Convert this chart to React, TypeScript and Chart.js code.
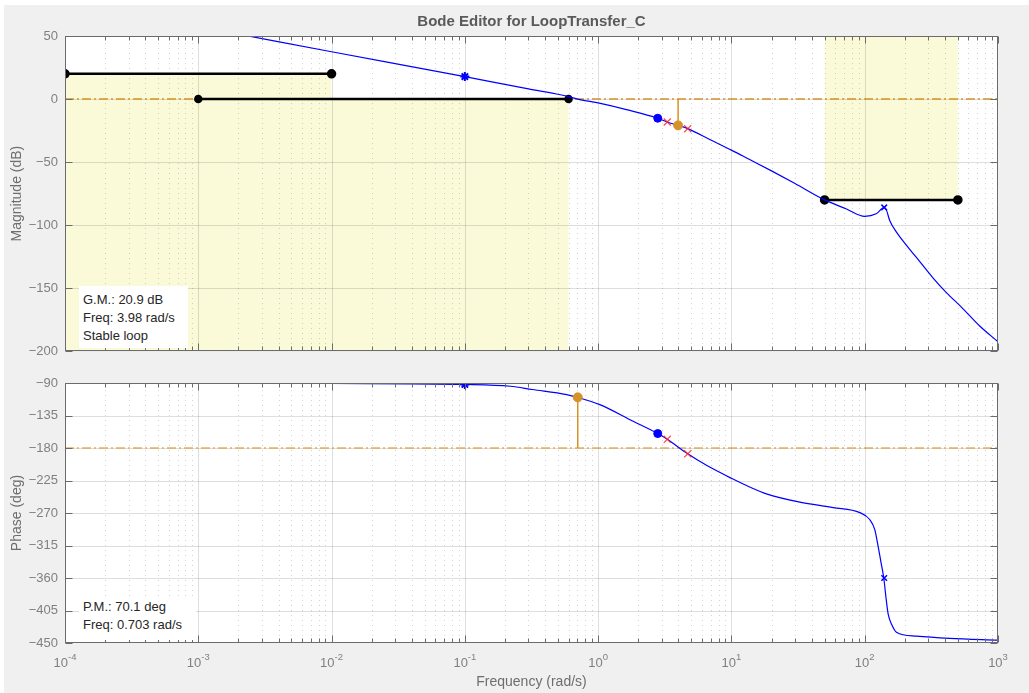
import React, { useEffect, useRef } from 'react';
import { Chart, registerables } from 'chart.js';

// white plot background, registered first so it runs before the filler plugin
const plotBg = {
  id: 'plotBg',
  beforeDraw(chart: any) {
    const { ctx, chartArea: a } = chart;
    ctx.save();
    ctx.fillStyle = '#ffffff';
    ctx.fillRect(a.left, a.top, a.right - a.left, a.bottom - a.top);
    ctx.restore();
  },
};
Chart.register(plotBg);
Chart.register(...registerables);

const FONT = '"Liberation Sans", Arial, Helvetica, sans-serif';

// ---------------- data ----------------
const chartTitle = 'Bode Editor for LoopTransfer_C';
const xTickValues = [1e-4, 1e-3, 1e-2, 1e-1, 1, 10, 100, 1000];
const xTickBase = '10';
const xTickExps = ['-4', '-3', '-2', '-1', '0', '1', '2', '3'];
const xMinorSteps = [2, 3, 4, 5, 6, 7, 8, 9];
const magTicks = [-200, -150, -100, -50, 0, 50];
const phaseTicks = [-450, -405, -360, -315, -270, -225, -180, -135, -90];

// open-loop magnitude (dB)
const magFreq = [1e-4, 1e-3, 2e-3, 1e-2, 0.1, 0.3, 0.52, 0.703, 1, 1.63, 2.8, 3.3, 3.98, 4.7, 7, 10, 13.7, 20, 30, 50, 73, 100, 122, 140, 146, 154, 173, 206, 259, 326, 410, 531, 729, 1000];
const magDb = [77.5, 57.5, 51.5, 37.5, 17.8, 8, 3.4, 0, -3.1, -8.4, -15.2, -18.2, -20.9, -23.5, -32.5, -40.5, -48, -57, -67, -80, -87.2, -93, -91, -86, -88.5, -96.4, -105.5, -116, -129, -142, -153.5, -165, -180, -192.5];

// open-loop phase (deg)
const phaseFreq = [1e-4, 1e-3, 1e-2, 0.1, 0.22, 0.32, 0.58, 0.703, 1.03, 1.83, 2.8, 3.3, 4.7, 6.5, 10, 13.7, 18.3, 32.6, 58, 92, 109, 119, 126, 133, 139, 145, 150, 160, 173, 244, 434, 1000];
const phaseDeg = [-90, -90.1, -90.6, -92, -94.5, -99, -106, -109.9, -120, -143, -160, -168, -188, -204, -222, -234, -243.5, -255, -262.5, -269.5, -279, -293, -316, -340, -360, -390, -410, -425, -435, -440.5, -443.5, -446];

// design constraints (magnitude)
const bound1Freq = [1e-4, 1e-2];
const bound1Db = [20, 20];
const bound2Freq = [1e-3, 0.6];
const bound2Db = [0, 0];
const bound3Freq = [50, 500];
const bound3Db = [-80, -80];

// reference lines
const refFreq = [1e-4, 1e3];
const magRefDb = [0, 0];
const phaseRefDeg = [-180, -180];

// markers
const integratorFreq = [0.1];
const integratorMagDb = [17.8];
const integratorPhase = [-92];
const zeroFreq = [2.8];
const zeroMagDb = [-15.2];
const zeroPhase = [-160];
const plantPoleFreq = [3.3, 4.7];
const plantPoleMagDb = [-18.2, -23.5];
const plantPolePhase = [-168, -188];
const compPoleFreq = [140];
const compPoleMagDb = [-86];
const compPolePhase = [-360];

// margins
const gmFreq = [3.98, 3.98];
const gmStemDb = [0, -20.9];
const pmFreq = [0.703, 0.703];
const pmStemDeg = [-180, -109.9];
const gmLines = ['G.M.: 20.9 dB', 'Freq: 3.98 rad/s', 'Stable loop'];
const pmLines = ['P.M.: 70.1 deg', 'Freq: 0.703 rad/s'];

// ---------------- helpers ----------------
const pts = (xs: number[], ys: number[]) => xs.map((x, i) => ({ x, y: ys[i] }));
const BLUE = '#0000ff';
const ORANGE = '#d6922a';
const YELLOW = 'rgb(250,250,216)';
const BOX = '#6b6b6b';

function framePlugin(opts: { title?: string; xLabels: boolean }) {
  return {
    id: 'frame',
    beforeDatasetsDraw(chart: any) {
      const { ctx, chartArea: a, scales } = chart;
      const xs = scales.x;
      const ys = scales.y;
      ctx.save();
      ctx.beginPath();
      ctx.rect(a.left, a.top, a.right - a.left, a.bottom - a.top);
      ctx.clip();
      ctx.lineWidth = 1;
      // minor x grid (dotted)
      ctx.strokeStyle = 'rgba(0,0,0,0.17)';
      ctx.setLineDash([1, 4]);
      for (const d of xTickValues.slice(0, -1)) {
        for (const m of xMinorSteps) {
          const px = Math.round(xs.getPixelForValue(d * m)) + 0.5;
          ctx.beginPath();
          ctx.moveTo(px, a.top + 2);
          ctx.lineTo(px, a.bottom);
          ctx.stroke();
        }
      }
      ctx.setLineDash([]);
      ctx.strokeStyle = 'rgba(0,0,0,0.13)';
      for (const v of xTickValues) {
        const px = Math.round(xs.getPixelForValue(v)) + 0.5;
        ctx.beginPath();
        ctx.moveTo(px, a.top);
        ctx.lineTo(px, a.bottom);
        ctx.stroke();
      }
      for (const t of ys.ticks) {
        const py = Math.round(ys.getPixelForValue(t.value)) + 0.5;
        ctx.beginPath();
        ctx.moveTo(a.left, py);
        ctx.lineTo(a.right, py);
        ctx.stroke();
      }
      ctx.restore();
    },
    afterDatasetsDraw(chart: any) {
      const { ctx, chartArea: a, scales } = chart;
      const xs = scales.x;
      const ys = scales.y;
      ctx.save();
      ctx.strokeStyle = BOX;
      ctx.lineWidth = 1;
      const L = Math.round(a.left) + 0.5;
      const R = Math.round(a.right) - 0.5;
      const T = Math.round(a.top) + 0.5;
      const B = Math.round(a.bottom) - 0.5;
      ctx.beginPath();
      for (const d of xTickValues) {
        const px = Math.round(xs.getPixelForValue(d)) + 0.5;
        ctx.moveTo(px, T); ctx.lineTo(px, T + 7);
        ctx.moveTo(px, B); ctx.lineTo(px, B - 7);
        if (d < 1000) {
          for (const m of xMinorSteps) {
            const pm = Math.round(xs.getPixelForValue(d * m)) + 0.5;
            ctx.moveTo(pm, T); ctx.lineTo(pm, T + 4);
            ctx.moveTo(pm, B); ctx.lineTo(pm, B - 4);
          }
        }
      }
      for (const t of ys.ticks) {
        const py = Math.round(ys.getPixelForValue(t.value)) + 0.5;
        ctx.moveTo(L, py); ctx.lineTo(L + 7, py);
        ctx.moveTo(R, py); ctx.lineTo(R - 7, py);
      }
      ctx.stroke();
      ctx.strokeRect(L, T, R - L, B - T);
      if (opts.xLabels) {
        ctx.fillStyle = '#808080';
        ctx.textBaseline = 'alphabetic';
        ctx.textAlign = 'left';
        xTickValues.forEach((v, i) => {
          const px = xs.getPixelForValue(v);
          ctx.font = `13px ${FONT}`;
          const wb = ctx.measureText(xTickBase).width;
          ctx.font = `9.5px ${FONT}`;
          const we = ctx.measureText(xTickExps[i]).width;
          const x0 = px - (wb + we) / 2;
          ctx.font = `13px ${FONT}`;
          ctx.fillText(xTickBase, x0, a.bottom + 24);
          ctx.font = `9.5px ${FONT}`;
          ctx.fillText(xTickExps[i], x0 + wb, a.bottom + 17);
        });
      }
      if (opts.title) {
        ctx.fillStyle = '#5a5a5a';
        ctx.font = `bold 15px ${FONT}`;
        ctx.textAlign = 'center';
        ctx.textBaseline = 'middle';
        ctx.fillText(opts.title, (a.left + a.right) / 2, 21.5);
      }
      ctx.restore();
    },
  };
}

function yScale(min: number, max: number, ticks: number[], title: string) {
  return {
    type: 'linear',
    position: 'left',
    min,
    max,
    afterBuildTicks: (s: any) => { s.ticks = ticks.map((v) => ({ value: v })); },
    afterFit: (s: any) => { s.width = 65; },
    grid: { display: false, drawTicks: false },
    border: { display: false },
    ticks: {
      color: '#808080',
      padding: 7,
      font: { family: FONT, size: 13 },
      callback: (v: number) => String(v).replace('-', '\u2212'),
    },
    title: {
      display: true,
      text: title,
      color: '#6e6e6e',
      font: { family: FONT, size: 14 },
      padding: { top: 9, bottom: 0 },
    },
  };
}

function baseOptions(yOpts: any, xOpts: any, padding: any) {
  return {
    responsive: false,
    maintainAspectRatio: false,
    animation: false,
    events: [],
    layout: { padding },
    plugins: {
      legend: { display: false },
      tooltip: { enabled: false },
      title: { display: false },
      filler: { drawTime: 'beforeDraw' },
    },
    elements: { line: { tension: 0 }, point: { radius: 0 } },
    scales: { x: xOpts, y: yOpts },
  };
}

function buildMag(canvas: HTMLCanvasElement) {
  const datasets: any[] = [
    { data: pts(gmFreq.slice(1), gmStemDb.slice(1)), showLine: false, pointRadius: 4.5, pointBackgroundColor: ORANGE, pointBorderColor: ORANGE, order: 0 },
    { data: pts(gmFreq, gmStemDb), borderColor: ORANGE, borderWidth: 1.5, pointRadius: 0, order: 1 },
    { data: pts(plantPoleFreq, plantPoleMagDb), showLine: false, pointStyle: 'crossRot', pointRadius: 5, pointBorderColor: 'rgba(255,40,40,0.85)', pointBorderWidth: 1.2, order: 0 },
    { data: pts(zeroFreq, zeroMagDb), showLine: false, pointRadius: 4, pointBackgroundColor: BLUE, pointBorderColor: BLUE, order: 0 },
    { data: pts(integratorFreq, integratorMagDb), showLine: false, pointStyle: 'star', pointRadius: 4.5, pointBorderColor: BLUE, pointBorderWidth: 2, order: 0 },
    { data: pts(compPoleFreq, compPoleMagDb), showLine: false, pointStyle: 'crossRot', pointRadius: 4, pointBorderColor: BLUE, pointBorderWidth: 1.5, order: 0 },
    { data: pts(magFreq, magDb), borderColor: BLUE, borderWidth: 1.2, pointRadius: 0, cubicInterpolationMode: 'monotone', order: 2 },
    { data: pts(bound1Freq, bound1Db), borderColor: '#000', borderWidth: 2.5, pointRadius: 3.5, pointBackgroundColor: '#000', pointBorderColor: '#000', fill: 'start', backgroundColor: YELLOW, order: 3 },
    { data: pts(bound2Freq, bound2Db), borderColor: '#000', borderWidth: 2.5, pointRadius: 3, pointBackgroundColor: '#000', pointBorderColor: '#000', fill: 'start', backgroundColor: YELLOW, order: 3 },
    { data: pts(bound3Freq, bound3Db), borderColor: '#000', borderWidth: 2.5, pointRadius: 3.5, pointBackgroundColor: '#000', pointBorderColor: '#000', fill: 'end', backgroundColor: YELLOW, order: 3 },
    { data: pts(refFreq, magRefDb), borderColor: ORANGE, borderWidth: 1.5, borderDash: [9, 3, 2, 3], pointRadius: 0, order: 4 },
  ];
  const x = { type: 'logarithmic', min: 1e-4, max: 1e3, display: false };
  return new Chart(canvas, {
    type: 'line',
    data: { datasets },
    options: baseOptions(yScale(-200, 50, magTicks, 'Magnitude (dB)'), x, { top: 36, right: 31, bottom: 10, left: 0 }) as any,
    plugins: [framePlugin({ title: chartTitle, xLabels: false })],
  } as any);
}

function buildPhase(canvas: HTMLCanvasElement) {
  const datasets: any[] = [
    { data: pts(pmFreq.slice(1), pmStemDeg.slice(1)), showLine: false, pointRadius: 4.5, pointBackgroundColor: ORANGE, pointBorderColor: ORANGE, order: 0 },
    { data: pts(pmFreq, pmStemDeg), borderColor: ORANGE, borderWidth: 1.5, pointRadius: 0, order: 1 },
    { data: pts(plantPoleFreq, plantPolePhase), showLine: false, pointStyle: 'crossRot', pointRadius: 5, pointBorderColor: 'rgba(255,40,40,0.85)', pointBorderWidth: 1.2, order: 0 },
    { data: pts(zeroFreq, zeroPhase), showLine: false, pointRadius: 4, pointBackgroundColor: BLUE, pointBorderColor: BLUE, order: 0 },
    { data: pts(integratorFreq, integratorPhase), showLine: false, pointStyle: 'star', pointRadius: 4.5, pointBorderColor: BLUE, pointBorderWidth: 2, order: 0 },
    { data: pts(compPoleFreq, compPolePhase), showLine: false, pointStyle: 'crossRot', pointRadius: 4, pointBorderColor: BLUE, pointBorderWidth: 1.5, order: 0 },
    { data: pts(phaseFreq, phaseDeg), borderColor: BLUE, borderWidth: 1.2, pointRadius: 0, cubicInterpolationMode: 'monotone', order: 2 },
    { data: pts(refFreq, phaseRefDeg), borderColor: 'rgba(214,146,42,0.72)', borderWidth: 1.5, borderDash: [9, 3, 2, 3], pointRadius: 0, order: 4 },
  ];
  const x = {
    type: 'logarithmic',
    min: 1e-4,
    max: 1e3,
    display: true,
    afterFit: (s: any) => { s.height = 50; },
    grid: { display: false, drawTicks: false },
    border: { display: false },
    ticks: { display: false },
    title: {
      display: true,
      text: 'Frequency (rad/s)',
      color: '#6e6e6e',
      font: { family: FONT, size: 14 },
      padding: { top: 0, bottom: 2 },
    },
  };
  return new Chart(canvas, {
    type: 'line',
    data: { datasets },
    options: baseOptions(yScale(-450, -90, phaseTicks, 'Phase (deg)'), x, { top: 17, right: 31, bottom: 0, left: 0 }) as any,
    plugins: [framePlugin({ xLabels: true })],
  } as any);
}

const boxText: React.CSSProperties = {
  position: 'absolute',
  background: '#ffffff',
  color: '#262626',
  fontFamily: FONT,
  fontSize: 13,
  whiteSpace: 'nowrap',
  boxSizing: 'border-box',
  paddingLeft: 4,
};

export default function App() {
  const magRef = useRef<HTMLCanvasElement>(null);
  const phaseRef = useRef<HTMLCanvasElement>(null);
  useEffect(() => {
    const c1 = buildMag(magRef.current!);
    const c2 = buildPhase(phaseRef.current!);
    return () => { c1.destroy(); c2.destroy(); };
  }, []);
  return (
    <div style={{ position: 'absolute', left: 0, top: 0, width: 1029, height: 693, background: '#ffffff', overflow: 'hidden' }}>
      <div style={{ position: 'absolute', left: 4, top: 5, right: 0, bottom: 0, background: '#f0f0f0' }} />
      <canvas ref={magRef} width={1029} height={366} style={{ position: 'absolute', left: 0, top: 0, display: 'block' }} />
      <canvas ref={phaseRef} width={1029} height={327} style={{ position: 'absolute', left: 0, top: 366, display: 'block' }} />
      <div style={{ ...boxText, left: 79, top: 286, width: 109, height: 62, paddingTop: 5, lineHeight: '18px' }}>
        {gmLines.map((t) => <div key={t}>{t}</div>)}
      </div>
      <div style={{ ...boxText, left: 79, top: 596, width: 117, height: 44, paddingTop: 2, lineHeight: '17.5px' }}>
        {pmLines.map((t) => <div key={t}>{t}</div>)}
      </div>
    </div>
  );
}
